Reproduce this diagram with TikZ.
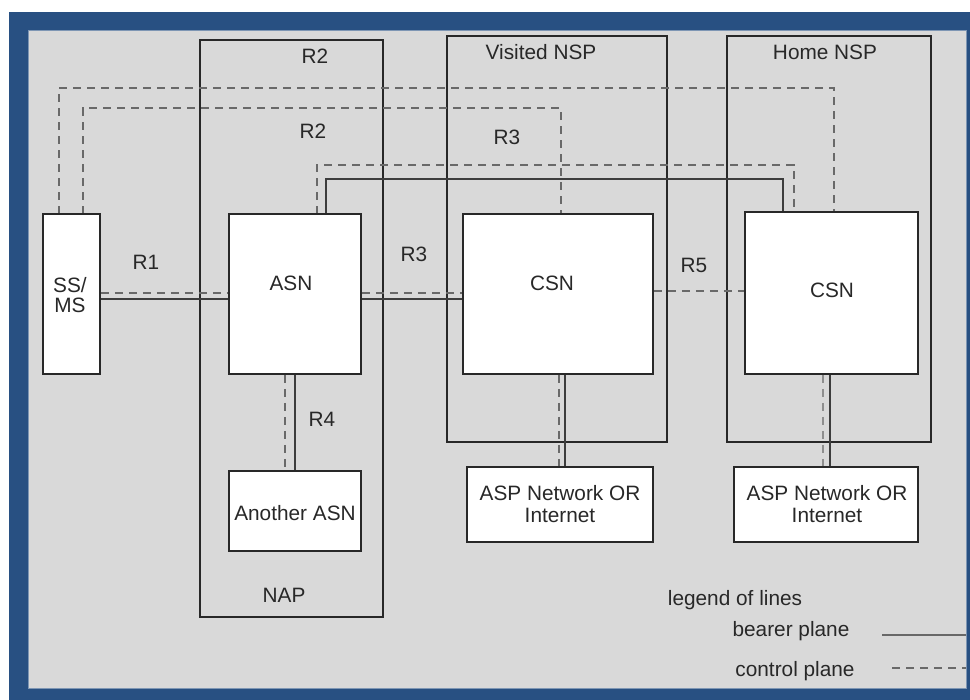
\documentclass[tikz,border=0pt]{standalone}
\usepackage{fontspec}
\setmainfont{Liberation Sans}
\usetikzlibrary{calc}
\definecolor{frameblue}{RGB}{40,80,130}
\definecolor{panel}{RGB}{217,217,217}
\definecolor{ink}{RGB}{40,40,40}
\definecolor{ctrlgray}{RGB}{105,105,105}
\tikzset{
  lbl/.style={font=\fontsize{20.8}{22}\selectfont, text=ink, inner sep=0pt, align=center},
  domainbox/.style={draw=ink, line width=1.6pt, fill=none, inner sep=0pt},
  entitybox/.style={draw=ink, line width=1.6pt, fill=white, inner sep=0pt},
  placebox/.style={inner sep=0pt},
  bearer/.style={draw=ink!90, line width=1.4pt},
  ctrl/.style={draw=ctrlgray, line width=1.7pt, dash pattern=on 8pt off 6pt},
  ctrllight/.style={draw=ctrlgray!75, line width=1.7pt, dash pattern=on 8pt off 6pt}
}
\begin{document}
\begin{tikzpicture}[x=1pt,y=-1pt]
% page, frame and panel
\useasboundingbox (0,0) rectangle (970,700);
\fill[white] (0,0) rectangle (970,700);
\fill[frameblue] (9,12) rectangle (972,702);
\fill[panel] (28,30) rectangle (966,688);
\draw[frameblue!60!white, line width=0.8pt] (28,30) rectangle (966,688);

% routing levels of the long connectors
\coordinate (lvlA) at (0,88);
\coordinate (lvlB) at (0,108);
\coordinate (lvlC) at (0,165);
\coordinate (lvlD) at (0,179);

% domains
\node[domainbox, minimum width=183pt, minimum height=577pt] (nap) at (291.5,328.5) {};
\node[domainbox, minimum width=220pt, minimum height=406pt] (vnsp) at (557,239) {};
\node[domainbox, minimum width=204pt, minimum height=406pt] (hnsp) at (829,239) {};

% footprints of the entities, used to route the connectors beneath them
\node[placebox, minimum width=57pt, minimum height=160pt] (ssgeo) at (71.5,294) {};
\node[placebox, minimum width=132pt, minimum height=160pt] (asngeo) at (295,294) {};
\node[placebox, minimum width=190pt, minimum height=160pt] (vcsngeo) at (558,294) {};
\node[placebox, minimum width=173pt, minimum height=162pt] (hcsngeo) at (831.5,293) {};

\draw[ctrl] ([xshift=16pt]ssgeo.north west) -- ([xshift=16pt]ssgeo.north west |- lvlA)
  -| ([xshift=89pt]hcsngeo.north west);
\draw[ctrl] ([xshift=40pt]ssgeo.north west) -- ([xshift=40pt]ssgeo.north west |- lvlB)
  -| ([xshift=98pt]vcsngeo.north west);
\draw[ctrl] ([xshift=88pt]asngeo.north west) -- ([xshift=88pt]asngeo.north west |- lvlC)
  -| ([xshift=49pt]hcsngeo.north west);
\draw[bearer] ([xshift=97pt]asngeo.north west) -- ([xshift=97pt]asngeo.north west |- lvlD)
  -| ([xshift=38pt]hcsngeo.north west);

% entities
\node[entitybox, minimum width=57pt, minimum height=160pt] (ss) at (71.5,294) {};
\node[entitybox, minimum width=132pt, minimum height=160pt] (asn) at (295,294) {};
\node[entitybox, minimum width=132pt, minimum height=80pt] (aasn) at (295,511) {};
\node[entitybox, minimum width=190pt, minimum height=160pt] (vcsn) at (558,294) {};
\node[entitybox, minimum width=173pt, minimum height=162pt] (hcsn) at (831.5,293) {};
\node[entitybox, minimum width=186pt, minimum height=75pt] (asp1) at (560,504.5) {};
\node[entitybox, minimum width=184pt, minimum height=75pt] (asp2) at (826,504.5) {};

% R1
\draw[ctrl] ([yshift=1pt]ss.east) -- ([yshift=1pt]ss.east -| asn.west);
\draw[bearer] ([yshift=-5pt]ss.east) -- ([yshift=-5pt]ss.east -| asn.west);
% R3
\draw[ctrl] ([yshift=1pt]asn.east) -- ([yshift=1pt]asn.east -| vcsn.west);
\draw[bearer] ([yshift=-5pt]asn.east) -- ([yshift=-5pt]asn.east -| vcsn.west);
% R5
\draw[ctrl] ([yshift=3pt]vcsn.east) -- ([yshift=3pt]vcsn.east -| hcsn.west);
% R4
\draw[ctrl] ([xshift=-10pt]asn.south) -- ([xshift=-10pt]asn.south |- aasn.north);
\draw[bearer] (asn.south) -- (aasn.north);
% CSN to ASP network
\draw[ctrl] ([xshift=1pt]vcsn.south) -- ([xshift=1pt]vcsn.south |- asp1.north);
\draw[bearer] ([xshift=7pt]vcsn.south) -- ([xshift=7pt]vcsn.south |- asp1.north);
\draw[ctrllight] ([xshift=-8.5pt]hcsn.south) -- ([xshift=-8.5pt]hcsn.south |- asp2.north);
\draw[bearer] ([xshift=-1.5pt]hcsn.south) -- ([xshift=-1.5pt]hcsn.south |- asp2.north);

% texts
\node[lbl, font=\fontsize{20.8}{20}\selectfont] (sstxt) at (70,295) {SS/\\MS};
\node[lbl] (asntxt) at (291,283) {ASN};
\node[lbl] (aasntxt) at (295,513) {Another ASN};
\node[lbl] (vcsntxt) at (552,283) {CSN};
\node[lbl] (hcsntxt) at (832,290) {CSN};
\node[lbl] (asp1txt) at (560,504) {ASP Network OR\\Internet};
\node[lbl] (asp2txt) at (827,504) {ASP Network OR\\Internet};
\node[lbl] (naptxt) at (284,595) {NAP};
\node[lbl] (vnsptxt) at (541,52) {Visited NSP};
\node[lbl] (hnsptxt) at (825,52) {Home NSP};
\node[lbl] (r2a) at (315,56) {R2};
\node[lbl] (r2b) at (313,131) {R2};
\node[lbl] (r3a) at (507,137) {R3};
\node[lbl] (r1) at (146,262) {R1};
\node[lbl] (r3b) at (414,254) {R3};
\node[lbl] (r5) at (694,265) {R5};
\node[lbl] (r4) at (322,419) {R4};

% legend
\node[lbl] (legtitle) at (735,600) {legend of lines};
\node[lbl] (legbearer) at (791,631) {bearer plane};
\node[lbl] (legctrl) at (795,671) {control plane};
\coordinate (lb1) at (882,635);
\coordinate (lb2) at (966,635);
\coordinate (lc1) at (892,668);
\coordinate (lc2) at (966,668);
\draw[bearer, draw=ink!70, line width=1.2pt] (lb1) -- (lb2);
\draw[ctrl, line width=1.4pt] (lc1) -- (lc2);
\end{tikzpicture}
\end{document}
